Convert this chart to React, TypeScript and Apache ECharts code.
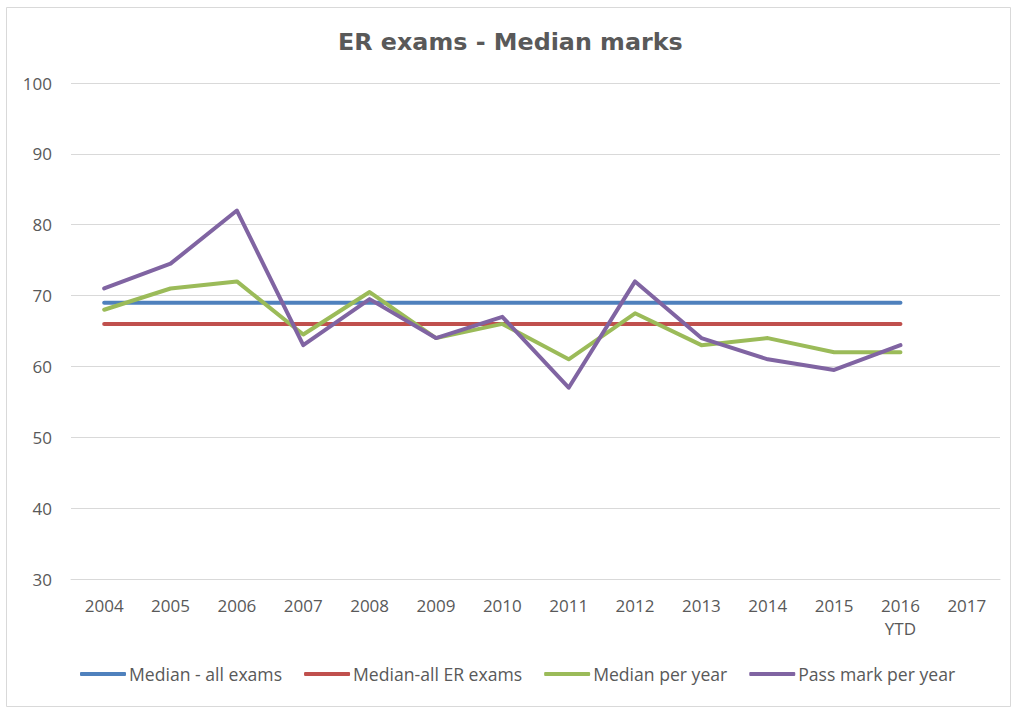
import React, { useEffect, useRef } from "react";
import * as echarts from "echarts";

const categories = ["2004", "2005", "2006", "2007", "2008", "2009", "2010", "2011", "2012", "2013", "2014", "2015", "2016\nYTD", "2017"];
const medianAllExams = [69, 69, 69, 69, 69, 69, 69, 69, 69, 69, 69, 69, 69, null];
const medianAllER = [66, 66, 66, 66, 66, 66, 66, 66, 66, 66, 66, 66, 66, null];
const medianPerYear = [68, 71, 72, 64.5, 70.5, 64, 66, 61, 67.5, 63, 64, 62, 62, null];
const passMarkPerYear = [71, 74.5, 82, 63, 69.5, 64, 67, 57, 72, 64, 61, 59.5, 63, null];
const seriesNames = ["Median - all exams", "Median-all ER exams", "Median per year", "Pass mark per year"];
const seriesColors = ["#4F81BD", "#C0504D", "#9BBB59", "#8064A2"];

const FONT = "'Open Sans', sans-serif";

export default function App() {
  const ref = useRef<HTMLDivElement>(null);
  useEffect(() => {
    document.body.style.margin = "0";
    const chart = echarts.init(ref.current!, null, { renderer: "svg" });
    const datasets = [medianAllExams, medianAllER, medianPerYear, passMarkPerYear];
    chart.setOption({
      animation: false,
      backgroundColor: "#ffffff",
      textStyle: { fontFamily: FONT },
      title: {
        text: "ER exams - Median marks",
        left: 333,
        top: 25,
        textStyle: { fontFamily: "'DejaVu Sans', Verdana, sans-serif", fontSize: 23.8, fontWeight: "bold", color: "#595959" },
      },
      graphic: [
        {
          type: "rect",
          shape: { x: 6.5, y: 7.5, width: 1004, height: 699 },
          style: { fill: "none", stroke: "#D9D9D9", lineWidth: 1 },
          silent: true,
        },
      ],
      legend: {
        bottom: 22,
        left: 75,
        itemWidth: 46,
        itemHeight: 4,
        itemGap: 22,
        icon: "roundRect",
        textStyle: { fontFamily: FONT, fontSize: 17.6, color: "#595959", padding: [0, 0, 0, -2] },
        data: seriesNames,
      },
      grid: { left: 71, right: 13, top: 83, bottom: 131, containLabel: false },
      xAxis: {
        type: "category",
        data: categories,
        boundaryGap: true,
        axisLine: { show: true, lineStyle: { color: "#D9D9D9", width: 1 } },
        axisTick: { show: false },
        axisLabel: { fontFamily: FONT, fontSize: 17, color: "#595959", margin: 15, lineHeight: 23 },
      },
      yAxis: {
        type: "value",
        min: 30,
        max: 100,
        interval: 10,
        axisLine: { show: false },
        axisTick: { show: false },
        axisLabel: { fontFamily: FONT, fontSize: 17, color: "#595959", margin: 19 },
        splitLine: { lineStyle: { color: "#D9D9D9", width: 1 } },
      },
      series: datasets.map((d, i) => ({
        name: seriesNames[i],
        type: "line",
        data: d,
        symbol: "none",
        showSymbol: false,
        connectNulls: false,
        color: seriesColors[i],
        itemStyle: { color: seriesColors[i] },
        lineStyle: { color: seriesColors[i], width: 4, cap: "round", join: "round" },
        z: 2 + i,
      })),
    });
    return () => chart.dispose();
  }, []);
  return <div ref={ref} style={{ width: 1013, height: 710 }} />;
}
